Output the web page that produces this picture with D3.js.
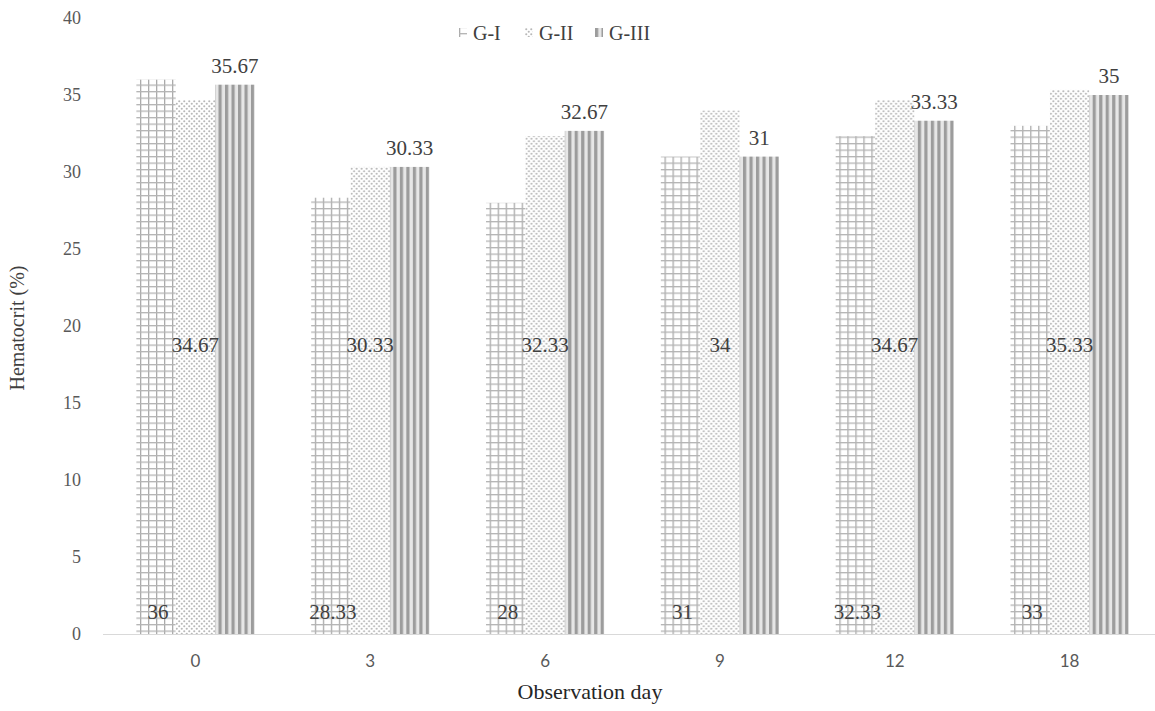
<!DOCTYPE html>
<html>
<head>
<meta charset="utf-8">
<script src="https://cdn.jsdelivr.net/npm/d3@7"></script>
<style>
  html, body { margin: 0; padding: 0; background: #fff; }
  svg { display: block; }
  svg text { font-family: "Liberation Serif", "Times New Roman", serif; }
  svg .x-tick text { font-family: Lato, "Liberation Sans", sans-serif; }
</style>
</head>
<body>
<svg id="chart" width="1155" height="711"></svg>
<script>
// Hematocrit by observation day for three groups
const days = ["0", "3", "6", "9", "12", "18"];
const groups = ["G-I", "G-II", "G-III"];
const gI   = [36, 28.33, 28, 31, 32.33, 33];
const gII  = [34.67, 30.33, 32.33, 34, 34.67, 35.33];
const gIII = [35.67, 30.33, 32.67, 31, 33.33, 35];
const yTicks = [0, 5, 10, 15, 20, 25, 30, 35, 40];

const series = [gI, gII, gIII];
const rows = days.map((d, i) => ({ day: d, values: groups.map((g, j) => ({ group: g, value: series[j][i] })) }));

const svg = d3.select("#chart");

// plot area
const plotLeft = 108, plotRight = 1157, plotTop = 18, plotBottom = 634;

const x = d3.scaleBand().domain(days).range([plotLeft, plotRight]).paddingInner(0).paddingOuter(0);
const xIn = d3.scaleBand().domain(groups).range([0, x.bandwidth()]).paddingInner(0).paddingOuter(0.72);
const y = d3.scaleLinear().domain([0, 40]).range([plotBottom, plotTop]);

// fill patterns for each group
const defs = svg.append("defs");

const pGrid = defs.append("pattern").attr("id", "pat-grid")
  .attr("patternUnits", "userSpaceOnUse").attr("width", 8).attr("height", 6.5);
pGrid.append("rect").attr("width", 8).attr("height", 6.5).attr("fill", "#fff");
pGrid.append("rect").attr("x", 0).attr("y", 0).attr("width", 1.3).attr("height", 6.5).attr("fill", "#ababab");
pGrid.append("rect").attr("x", 0).attr("y", 0).attr("width", 8).attr("height", 1.3).attr("fill", "#b4b4b4");

const pDots = defs.append("pattern").attr("id", "pat-dots")
  .attr("patternUnits", "userSpaceOnUse").attr("width", 5).attr("height", 5);
pDots.append("rect").attr("width", 5).attr("height", 5).attr("fill", "#fff");
pDots.append("circle").attr("cx", 1.25).attr("cy", 1.25).attr("r", 1.05).attr("fill", "#b8b8b8");
pDots.append("circle").attr("cx", 3.75).attr("cy", 3.75).attr("r", 1.05).attr("fill", "#b8b8b8");

const pStripe = defs.append("pattern").attr("id", "pat-stripe")
  .attr("patternUnits", "userSpaceOnUse").attr("width", 6.5).attr("height", 10);
pStripe.append("rect").attr("width", 6.5).attr("height", 10).attr("fill", "#e6e6e6");
pStripe.append("rect").attr("x", 0).attr("width", 3.2).attr("height", 10).attr("fill", "#9c9c9c");

const fills = { "G-I": "url(#pat-grid)", "G-II": "url(#pat-dots)", "G-III": "url(#pat-stripe)" };

// x axis line
svg.append("line")
  .attr("x1", 103).attr("x2", 1155)
  .attr("y1", plotBottom + 0.5).attr("y2", plotBottom + 0.5)
  .attr("stroke", "#d9d9d9").attr("stroke-width", 1.2);

// bars
const grp = svg.append("g").selectAll("g").data(rows).join("g")
  .attr("transform", d => `translate(${x(d.day)},0)`);

grp.selectAll("rect").data(d => d.values).join("rect")
  .attr("x", d => xIn(d.group))
  .attr("y", d => y(d.value))
  .attr("width", xIn.bandwidth())
  .attr("height", d => y(0) - y(d.value))
  .attr("fill", d => fills[d.group]);

// value labels: G-I at the base, G-II mid-height, G-III above the bar
const labelStyle = sel => sel
  .attr("font-size", 21)
  .attr("fill", "#404040").attr("text-anchor", "middle");

grp.append("text").call(labelStyle)
  .attr("x", xIn("G-I") + xIn.bandwidth() / 2 + 2)
  .attr("y", y(0) - 15)
  .text(d => d.values[0].value);

grp.append("text").call(labelStyle)
  .attr("x", xIn("G-II") + xIn.bandwidth() / 2)
  .attr("y", y(18.3))
  .text(d => d.values[1].value);

grp.append("text").call(labelStyle)
  .attr("x", xIn("G-III") + xIn.bandwidth() / 2)
  .attr("y", d => y(d.values[2].value) - 12)
  .text(d => d.values[2].value);

// y axis tick labels
const yAxis = svg.append("g")
  .attr("transform", `translate(${81},0)`)
  .call(d3.axisLeft(y).tickValues(yTicks).tickSize(0).tickPadding(0));
yAxis.select(".domain").remove();
yAxis.attr("font-family", null);
yAxis.selectAll("text")
  .attr("font-size", 18).attr("fill", "#595959");

// x axis tick labels
const xAxis = svg.append("g")
  .attr("class", "x-tick")
  .attr("transform", `translate(0,${plotBottom + 21})`)
  .call(d3.axisBottom(x).tickSize(0).tickPadding(0));
xAxis.select(".domain").remove();
xAxis.attr("font-family", null);
xAxis.selectAll("text")
  .attr("font-size", 17).attr("fill", "#595959");

// axis titles
svg.append("text")
  .attr("transform", `translate(24,${328}) rotate(-90)`)
  .attr("text-anchor", "middle")
  .attr("font-size", 20).attr("fill", "#404040")
  .text("Hematocrit (%)");

svg.append("text")
  .attr("x", 590).attr("y", 699)
  .attr("text-anchor", "middle")
  .attr("font-size", 22).attr("fill", "#262626")
  .text("Observation day");

// legend
const legendX = { "G-I": 459, "G-II": 525, "G-III": 595 };
const leg = svg.append("g").selectAll("g").data(groups).join("g")
  .attr("transform", g => `translate(${legendX[g]},${33})`);
leg.append("rect")
  .attr("x", 0).attr("y", -5).attr("width", 8).attr("height", 9)
  .attr("fill", g => fills[g]);
leg.append("text")
  .attr("x", 14).attr("y", 7)
  .attr("font-size", 20).attr("fill", "#404040")
  .text(g => g);
</script>
</body>
</html>
